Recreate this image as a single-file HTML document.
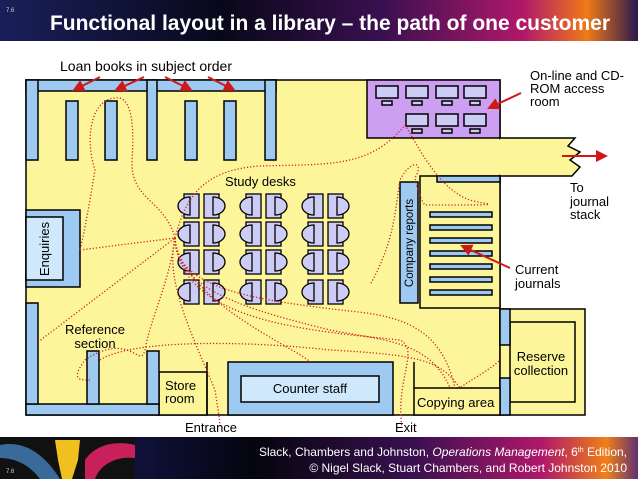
<!DOCTYPE html>
<html><head><meta charset="utf-8"><style>
html,body{margin:0;padding:0;background:#fff;}
svg{display:block;font-family:"Liberation Sans",sans-serif;}
</style></head><body>
<svg width="638" height="479" viewBox="0 0 638 479" xmlns="http://www.w3.org/2000/svg">
<defs>
<linearGradient id="hg" x1="0" x2="1" y1="0" y2="0">
<stop offset="0" stop-color="#1a1f5a"/><stop offset="0.35" stop-color="#08081a"/><stop offset="0.6" stop-color="#3a1050"/><stop offset="0.82" stop-color="#b0186a"/><stop offset="0.92" stop-color="#f07a18"/><stop offset="1" stop-color="#2a1850"/>
</linearGradient>
<linearGradient id="fg" x1="0" x2="1" y1="0" y2="0">
<stop offset="0" stop-color="#1a1f6a"/><stop offset="0.4" stop-color="#05050f"/><stop offset="0.65" stop-color="#3a1050"/><stop offset="0.85" stop-color="#b0186a"/><stop offset="0.95" stop-color="#f08018"/><stop offset="1" stop-color="#603070"/>
</linearGradient>
<marker id="ar" markerWidth="6" markerHeight="6" refX="5" refY="3" orient="auto"><path d="M0,0 L6,3 L0,6z" fill="#d01818"/></marker>
</defs>
<rect x="0" y="0" width="638" height="41" fill="url(#hg)"/>
<text x="6" y="12" font-size="6" fill="#ccc">7.6</text>
<text x="330" y="30" font-size="21" font-weight="bold" fill="#fff" text-anchor="middle">Functional layout in a library – the path of one customer</text>

<g stroke="#000" stroke-width="1.5">
<rect x="26" y="80" width="474" height="335" fill="#fdf59a"/>
<path d="M500,138 L575,138 L568,146 L580,152 L570,160 L580,167 L572,176 L500,176" fill="#fdf59a"/>
<rect x="498" y="139.5" width="6" height="35" fill="#fdf59a" stroke="none"/>
<rect x="367" y="80" width="133" height="58" fill="#cc9ff0"/>
<rect x="420" y="176" width="80" height="132" fill="#fdf59a"/>
<rect x="437" y="176" width="63" height="6" fill="#9ec9f0"/>
<rect x="400" y="182" width="18" height="121" fill="#9ec9f0"/>
<rect x="500" y="309" width="85" height="106" fill="#fdf59a"/>
<rect x="510" y="322" width="65" height="80" fill="#fdf59a"/>
<rect x="500" y="309" width="10" height="36" fill="#9ec9f0"/>
<rect x="500" y="378" width="10" height="37" fill="#9ec9f0"/>
<rect x="414" y="388" width="86" height="27" fill="#fdf59a"/>
<line x1="414" y1="362" x2="414" y2="388"/>
<rect x="228" y="362" width="165" height="53" fill="#9ec9f0"/>
<rect x="241" y="376" width="138" height="26" fill="#cfe8fb"/>
<rect x="159" y="372" width="48" height="43" fill="#fdf59a"/>
<line x1="207" y1="362" x2="207" y2="415"/>
<rect x="26" y="404" width="133" height="11" fill="#9ec9f0"/>
<rect x="26" y="303" width="12" height="101" fill="#9ec9f0"/>
<rect x="87" y="351" width="12" height="53" fill="#9ec9f0"/>
<rect x="147" y="351" width="12" height="53" fill="#9ec9f0"/>
<rect x="26" y="210" width="54" height="77" fill="#9ec9f0"/>
<rect x="26" y="217" width="37" height="63" fill="#cfe8fb"/>
<rect x="26" y="80" width="250" height="11" fill="#9ec9f0"/>
<rect x="26" y="80" width="12" height="80" fill="#9ec9f0"/>
<rect x="147" y="80" width="10" height="80" fill="#9ec9f0"/>
<rect x="265" y="80" width="11" height="80" fill="#9ec9f0"/>
<rect x="66" y="101" width="12" height="59" fill="#9ec9f0"/>
<rect x="105" y="101" width="12" height="59" fill="#9ec9f0"/>
<rect x="185" y="101" width="12" height="59" fill="#9ec9f0"/>
<rect x="224" y="101" width="12" height="59" fill="#9ec9f0"/>
<g fill="#9ec9f0">
<rect x="430" y="212" width="62" height="5"/><rect x="430" y="225" width="62" height="5"/><rect x="430" y="238" width="62" height="5"/><rect x="430" y="251" width="62" height="5"/><rect x="430" y="264" width="62" height="5"/><rect x="430" y="277" width="62" height="5"/><rect x="430" y="290" width="62" height="5"/>
</g>
<g fill="#ccccf5">
<rect x="376" y="86" width="22" height="12"/><rect x="382" y="101" width="10" height="4"/>
<rect x="406" y="86" width="22" height="12"/><rect x="412" y="101" width="10" height="4"/>
<rect x="436" y="86" width="22" height="12"/><rect x="442" y="101" width="10" height="4"/>
<rect x="464" y="86" width="22" height="12"/><rect x="470" y="101" width="10" height="4"/>
<rect x="406" y="114" width="22" height="12"/><rect x="412" y="129" width="10" height="4" />
<rect x="436" y="114" width="22" height="12"/><rect x="442" y="129" width="10" height="4"/>
<rect x="464" y="114" width="22" height="12"/><rect x="470" y="129" width="10" height="4"/>
</g>
</g>
<g id="grp" stroke="#000" stroke-width="1.3" fill="#ccccf5">
<rect x="184" y="194" width="15" height="24"/><path d="M190,197 A12,9 0 0 0 190,215 Z"/>
<rect x="204" y="194" width="15" height="24"/><path d="M213,197 A12,9 0 0 1 213,215 Z"/>
</g>
<use href="#grp" x="62"/><use href="#grp" x="124"/>
<use href="#grp" y="28"/><use href="#grp" x="62" y="28"/><use href="#grp" x="124" y="28"/>
<use href="#grp" y="56"/><use href="#grp" x="62" y="56"/><use href="#grp" x="124" y="56"/>
<use href="#grp" y="86"/><use href="#grp" x="62" y="86"/><use href="#grp" x="124" y="86"/>
<g fill="none" stroke="#d02020" stroke-width="1.3" stroke-dasharray="1.2 2">
<path d="M175,238 C165,200 130,200 132,160 C135,120 130,95 115,98 C90,100 85,140 95,170 C90,200 85,230 80,250"/>
<path d="M80,250 L175,238"/>
<path d="M38,342 L175,238"/>
<path d="M175,238 C185,200 200,170 260,166 C330,164 370,168 405,125"/>
<path d="M405,125 C420,150 440,190 470,200 C485,205 520,205 425,205 C420,200 415,180 415,178 C425,160 410,160 400,180 C395,210 395,240 370,285"/>
<path d="M175,238 C170,280 150,320 145,350 C140,370 130,330 85,360 C70,380 80,380 90,380"/>
<path d="M175,238 C165,280 190,330 215,390 C218,410 220,420 220,428"/>
<path d="M175,238 C175,290 250,310 330,330 C380,340 430,340 450,388"/>
<path d="M175,238 C180,320 300,330 400,340 C420,350 395,380 402,428"/>
<path d="M175,238 C180,300 300,350 310,362"/>
<path d="M100,360 C130,340 240,340 330,350 C420,355 440,360 460,388 C470,380 490,370 500,360"/>
<path d="M175,238 C175,290 260,300 340,310 C390,315 440,320 455,388"/>
</g>
<g stroke="#d01818" stroke-width="2" marker-end="url(#ar)">
<line x1="100" y1="77" x2="74" y2="90"/><line x1="144" y1="77" x2="116" y2="90"/>
<line x1="165" y1="77" x2="191" y2="90"/><line x1="208" y1="77" x2="234" y2="90"/>
<line x1="521" y1="93" x2="489" y2="108"/>
<line x1="562" y1="156" x2="606" y2="156"/>
<line x1="510" y1="268" x2="462" y2="246"/>
</g>
<g font-size="13" fill="#000">
<text x="60" y="71" font-size="14">Loan books in subject order</text>
<text x="225" y="186">Study desks</text>
<text x="530" y="80">On-line and CD-</text><text x="530" y="93">ROM access</text><text x="530" y="106">room</text>
<text x="570" y="192">To</text><text x="570" y="206">journal</text><text x="570" y="219">stack</text>
<text x="515" y="274">Current</text><text x="515" y="288">journals</text>
<text x="95" y="334" text-anchor="middle">Reference</text><text x="95" y="348" text-anchor="middle">section</text>
<text x="165" y="390">Store</text><text x="165" y="403">room</text>
<text x="310" y="393" text-anchor="middle">Counter staff</text>
<text x="417" y="407">Copying area</text>
<text x="541" y="361" text-anchor="middle">Reserve</text><text x="541" y="375" text-anchor="middle">collection</text>
<text x="185" y="432">Entrance</text><text x="395" y="432">Exit</text>
<text transform="translate(49,249) rotate(-90)" text-anchor="middle">Enquiries</text>
<text transform="translate(413,243) rotate(-90)" text-anchor="middle" font-size="11.5">Company reports</text>
</g>
<rect x="0" y="437" width="638" height="42" fill="url(#fg)"/>
<rect x="0" y="437" width="135" height="42" fill="#111"/>
<path d="M0,445 C25,440 45,455 60,479 L40,479 C30,465 15,458 0,458z" fill="#3a6a9a"/>
<path d="M55,440 L80,440 L78,460 L72,479 L62,479 L58,460z" fill="#f0c020"/>
<path d="M85,460 C95,445 115,440 135,445 L135,458 C115,456 100,465 95,479 L85,479z" fill="#c8205a"/>
<text x="6" y="473" font-size="6" fill="#ccc">7.6</text>
<g font-size="12" fill="#fff" text-anchor="end">
<text x="627" y="456">Slack, Chambers and Johnston, <tspan font-style="italic">Operations Management</tspan>, 6<tspan font-size="7" dy="-4">th</tspan><tspan dy="4"> Edition,</tspan></text>
<text x="627" y="472">© Nigel Slack, Stuart Chambers, and Robert Johnston 2010</text>
</g>
</svg>
</body></html>
